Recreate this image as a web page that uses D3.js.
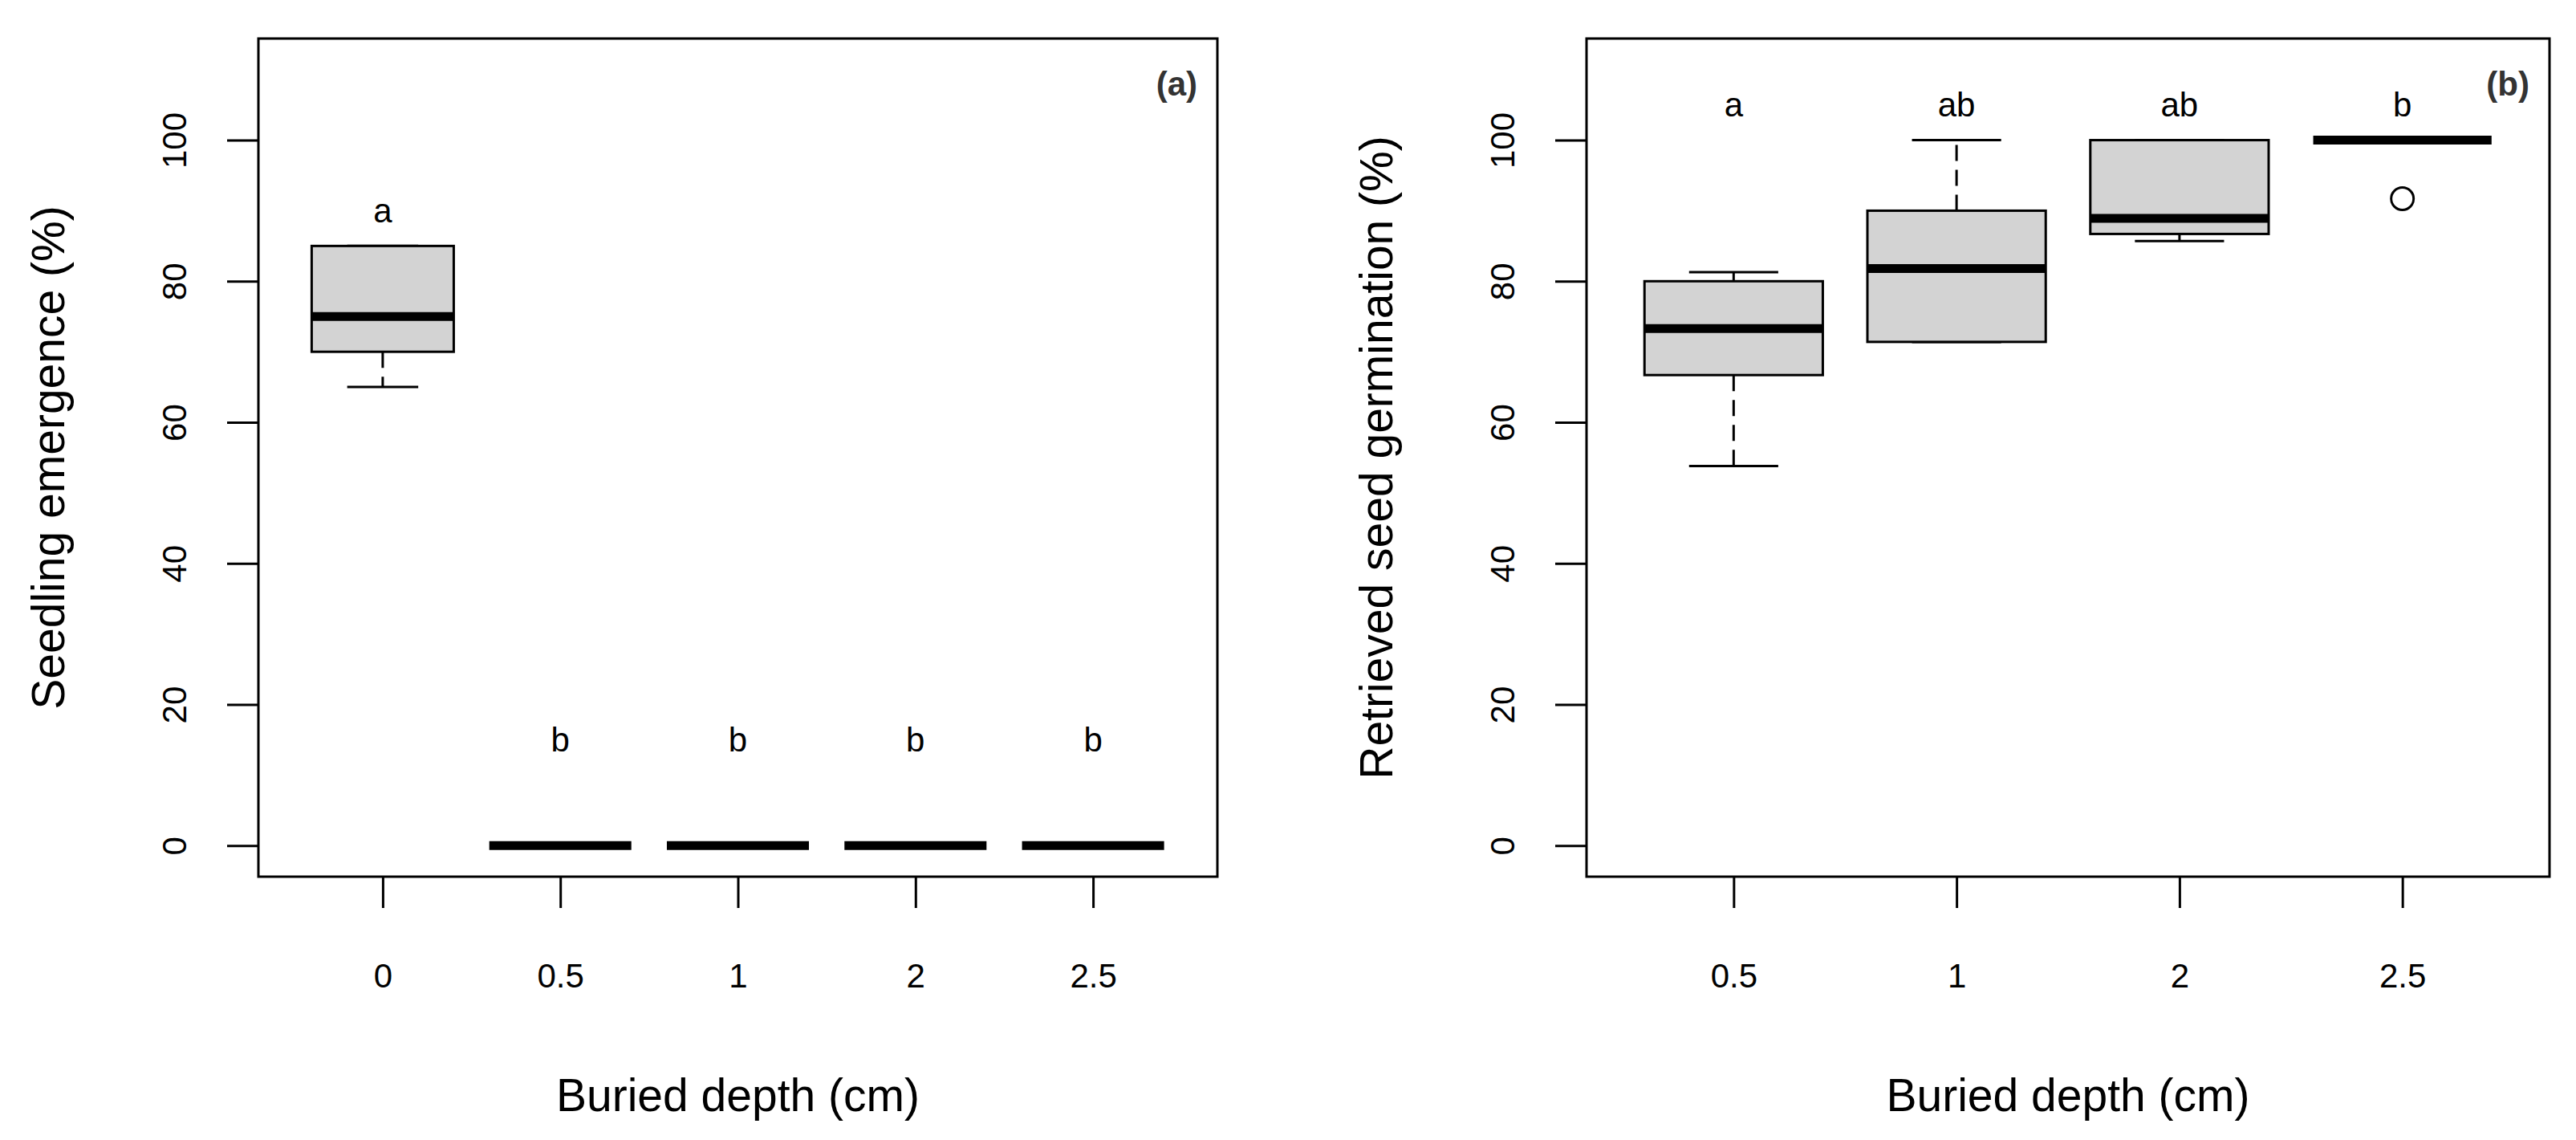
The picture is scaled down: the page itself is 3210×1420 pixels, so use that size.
<!DOCTYPE html>
<html>
<head>
<meta charset="utf-8">
<script src="https://cdn.jsdelivr.net/npm/d3@7"></script>
<style>
  body { margin: 0; background: #fff; }
  svg text { font-family: 'Liberation Sans', Arial, sans-serif; }
</style>
</head>
<body>
<div id="chart"></div>
<script>
// panel (a): seedling emergence by buried depth (boxplot stats)
const depthsA = ['0', '0.5', '1', '2', '2.5'];
const lowerA  = [65, 0, 0, 0, 0];
const q1A     = [70, 0, 0, 0, 0];
const medianA = [75, 0, 0, 0, 0];
const q3A     = [85, 0, 0, 0, 0];
const upperA  = [85, 0, 0, 0, 0];
const lettersA = ['a', 'b', 'b', 'b', 'b'];
const letterYA = [90, 15, 15, 15, 15];

// panel (b): retrieved seed germination
const depthsB = ['0.5', '1', '2', '2.5'];
const lowerB  = [53.8, 71.4, 85.7, 100];
const q1B     = [66.7, 71.4, 86.7, 100];
const medianB = [73.3, 81.8, 88.9, 100];
const q3B     = [80, 90, 100, 100];
const upperB  = [81.3, 100, 100, 100];
const outliersB = [{depth: '2.5', value: 91.7}];
const lettersB = ['a', 'ab', 'ab', 'b'];
const letterYB = [105, 105, 105, 105];

// shared axis settings
const yTicks = [0, 20, 40, 60, 80, 100];
const yLimits = [0, 110];

const W = 3210, H = 1420;

const svg = d3.select('#chart')
    .append('svg')
    .attr('width', W)
    .attr('height', H);

// draws one base-R style boxplot panel
function boxPanel(cfg) {
    const n = cfg.depths.length;
    const g = svg.append('g').attr('class', 'panel');

    // R pads the range by 4% on each side
    const x = d3.scaleLinear()
        .domain([0.5 - 0.04 * n, n + 0.5 + 0.04 * n])
        .range([cfg.left, cfg.right]);
    const span = yLimits[1] - yLimits[0];
    const y = d3.scaleLinear()
        .domain([yLimits[0] - 0.04 * span, yLimits[1] + 0.04 * span])
        .range([cfg.bottom, cfg.top]);

    const rows = cfg.depths.map((d, i) => ({
        depth: d, pos: i + 1,
        lo: cfg.lower[i], q1: cfg.q1[i], med: cfg.median[i],
        q3: cfg.q3[i], hi: cfg.upper[i],
        letter: cfg.letters[i], ly: cfg.letterY[i]
    }));

    const boxHalf = 0.4, capHalf = 0.2;

    // whiskers (dashed)
    const wh = g.selectAll('.whisker')
        .data(rows.flatMap(r => [[r.pos, r.q3, r.hi], [r.pos, r.q1, r.lo]]).filter(d => d[1] !== d[2]))
        .enter()
        .append('line')
        .attr('class', 'whisker')
        .attr('x1', d => x(d[0]))
        .attr('x2', d => x(d[0]))
        .attr('y1', d => y(d[1]))
        .attr('y2', d => y(d[2]))
        .attr('stroke', '#000')
        .attr('stroke-width', 3)
        .attr('stroke-dasharray', '20,11');

    // staples
    g.selectAll('.staple')
        .data(rows.flatMap(r => [[r.pos, r.hi], [r.pos, r.lo]]))
        .enter()
        .append('line')
        .attr('class', 'staple')
        .attr('x1', d => x(d[0] - capHalf))
        .attr('x2', d => x(d[0] + capHalf))
        .attr('y1', d => y(d[1]))
        .attr('y2', d => y(d[1]))
        .attr('stroke', '#000')
        .attr('stroke-width', 3);

    // boxes
    g.selectAll('.box')
        .data(rows)
        .enter()
        .append('rect')
        .attr('class', 'box')
        .attr('x', d => x(d.pos - boxHalf))
        .attr('width', d => x(d.pos + boxHalf) - x(d.pos - boxHalf))
        .attr('y', d => y(d.q3))
        .attr('height', d => y(d.q1) - y(d.q3))
        .attr('fill', '#d3d3d3')
        .attr('stroke', '#000')
        .attr('stroke-width', 3);

    // medians
    g.selectAll('.median')
        .data(rows)
        .enter()
        .append('line')
        .attr('class', 'median')
        .attr('x1', d => x(d.pos - boxHalf))
        .attr('x2', d => x(d.pos + boxHalf))
        .attr('y1', d => y(d.med))
        .attr('y2', d => y(d.med))
        .attr('stroke', '#000')
        .attr('stroke-width', 11);

    // outliers
    g.selectAll('.outlier')
        .data(cfg.outliers || [])
        .enter()
        .append('circle')
        .attr('class', 'outlier')
        .attr('cx', d => x(cfg.depths.indexOf(d.depth) + 1))
        .attr('cy', d => y(d.value))
        .attr('r', 14)
        .attr('fill', 'none')
        .attr('stroke', '#000')
        .attr('stroke-width', 3);

    // significance letters
    g.selectAll('.letter')
        .data(rows)
        .enter()
        .append('text')
        .attr('class', 'letter')
        .attr('x', d => x(d.pos))
        .attr('y', d => y(d.ly))
        .attr('text-anchor', 'middle')
        .attr('dominant-baseline', 'central')
        .style('font-size', '42px')
        .text(d => d.letter);

    // plot frame
    g.append('rect')
        .attr('x', cfg.left)
        .attr('y', cfg.top)
        .attr('width', cfg.right - cfg.left)
        .attr('height', cfg.bottom - cfg.top)
        .attr('fill', 'none')
        .attr('stroke', '#000')
        .attr('stroke-width', 3);

    // axes
    const axisY = d3.axisLeft(y)
        .tickValues(yTicks)
        .tickSize(39);
    const yNode = g.append('g')
        .attr('class', 'axis axis-y')
        .attr('transform', `translate(${cfg.left},0)`)
        .call(axisY);
    yNode.select('.domain').remove();
    yNode.selectAll('line').attr('stroke', '#000').attr('stroke-width', 3);
    yNode.selectAll('text')
        .attr('x', 0)
        .attr('dy', null)
        .attr('transform', 'translate(-105,0) rotate(-90)')
        .attr('text-anchor', 'middle')
        .attr('dominant-baseline', 'central')
        .attr('fill', '#000')
        .style('font-size', '42px');

    const axisX = d3.axisBottom(x)
        .tickValues(d3.range(1, n + 1))
        .tickFormat(i => cfg.depths[i - 1])
        .tickSize(39);
    const xNode = g.append('g')
        .attr('class', 'axis axis-x')
        .attr('transform', `translate(0,${cfg.bottom})`)
        .call(axisX);
    xNode.select('.domain').remove();
    xNode.selectAll('line').attr('stroke', '#000').attr('stroke-width', 3);
    xNode.selectAll('text')
        .attr('y', 123)
        .attr('dy', null)
        .attr('dominant-baseline', 'central')
        .attr('fill', '#000')
        .style('font-size', '42px');

    // axis titles
    g.append('text')
        .attr('x', (cfg.left + cfg.right) / 2)
        .attr('y', 1364)
        .attr('text-anchor', 'middle')
        .attr('dominant-baseline', 'central')
        .style('font-size', '57px')
        .text('Buried depth (cm)');
    g.append('text')
        .attr('transform', `translate(${cfg.left - 262},${(cfg.top + cfg.bottom) / 2}) rotate(-90)`)
        .attr('text-anchor', 'middle')
        .attr('dominant-baseline', 'central')
        .style('font-size', '57px')
        .text(cfg.yTitle);

    // panel tag
    g.append('text')
        .attr('x', cfg.right - 25)
        .attr('y', cfg.top + 56)
        .attr('text-anchor', 'end')
        .attr('dominant-baseline', 'central')
        .attr('font-weight', 'bold')
        .attr('fill', '#333')
        .style('font-size', '42px')
        .text(cfg.tag);
}

boxPanel({
    left: 322, right: 1517, top: 48, bottom: 1092,
    depths: depthsA, lower: lowerA, q1: q1A, median: medianA, q3: q3A, upper: upperA,
    letters: lettersA, letterY: letterYA,
    yTitle: 'Seedling emergence (%)', tag: '(a)'
});

boxPanel({
    left: 1977, right: 3177, top: 48, bottom: 1092,
    depths: depthsB, lower: lowerB, q1: q1B, median: medianB, q3: q3B, upper: upperB,
    outliers: outliersB,
    letters: lettersB, letterY: letterYB,
    yTitle: 'Retrieved seed germination (%)', tag: '(b)'
});
</script>
</body>
</html>
